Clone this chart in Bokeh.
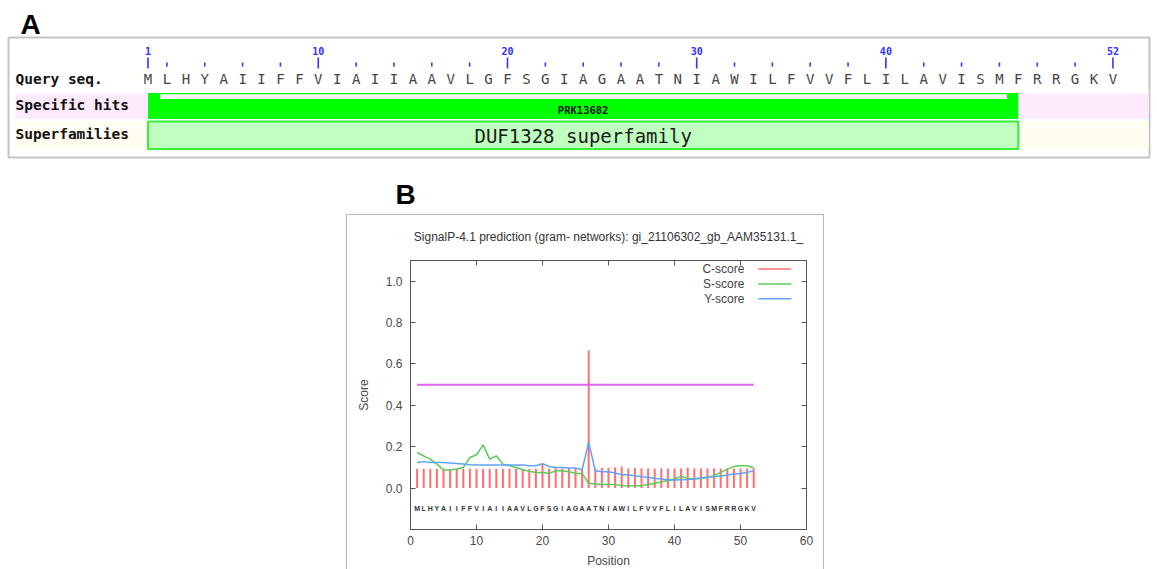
from bokeh.plotting import figure
from bokeh.models import Range1d, FixedTicker, LinearAxis, NumeralTickFormatter, Spacer
from bokeh.layouts import column, row
from bokeh.core.properties import value
from bokeh.embed import file_html
from bokeh.resources import INLINE

# ---------------- data ----------------
SEQUENCE = "MLHYAIIFFVIAIIAAVLGFSGIAGAATNIAWILFVVFLILAVISMFRRGKV"
positions = list(range(1, len(SEQUENCE) + 1))

ruler_major = [1, 10, 20, 30, 40, 52]
ruler_minor = [k for k in range(2, 52, 2) if k not in ruler_major]

hit_name = "PRK13682"
hit_start, hit_end = 1, 47
superfamily_name = "DUF1328 superfamily"

c_score = [0.093, 0.093, 0.093, 0.093, 0.093, 0.093, 0.093, 0.093, 0.093, 0.093,
           0.093, 0.093, 0.093, 0.093, 0.093, 0.093, 0.093, 0.093, 0.093, 0.117,
           0.095, 0.100, 0.095, 0.098, 0.098, 0.095, 0.665, 0.092, 0.098, 0.098,
           0.100, 0.104, 0.095, 0.098, 0.095, 0.095, 0.095, 0.095, 0.095, 0.095,
           0.095, 0.098, 0.095, 0.095, 0.095, 0.095, 0.095, 0.095, 0.095, 0.095,
           0.095, 0.095]
s_score = [0.172, 0.156, 0.140, 0.116, 0.088, 0.088, 0.092, 0.100, 0.148, 0.161,
           0.209, 0.140, 0.156, 0.116, 0.108, 0.100, 0.089, 0.081, 0.076, 0.076,
           0.071, 0.084, 0.084, 0.079, 0.071, 0.071, 0.023, 0.020, 0.017, 0.017,
           0.017, 0.012, 0.010, 0.012, 0.012, 0.017, 0.023, 0.030, 0.037, 0.044,
           0.057, 0.047, 0.044, 0.047, 0.052, 0.060, 0.076, 0.092, 0.104, 0.108,
           0.108, 0.097]
y_score = [0.124, 0.128, 0.124, 0.124, 0.124, 0.121, 0.119, 0.116, 0.113, 0.112,
           0.112, 0.112, 0.112, 0.112, 0.112, 0.112, 0.112, 0.108, 0.108, 0.118,
           0.105, 0.100, 0.100, 0.097, 0.097, 0.089, 0.221, 0.084, 0.079, 0.079,
           0.073, 0.065, 0.065, 0.060, 0.055, 0.052, 0.047, 0.044, 0.041, 0.039,
           0.041, 0.042, 0.044, 0.050, 0.052, 0.055, 0.059, 0.063, 0.068, 0.071,
           0.076, 0.084]
threshold = 0.5

x_ticks = [0, 10, 20, 30, 40, 50, 60]
y_ticks = [0.0, 0.2, 0.4, 0.6, 0.8, 1.0]
legend_names = ["C-score", "S-score", "Y-score"]
plot_title = "SignalP-4.1 prediction (gram- networks): gi_21106302_gb_AAM35131.1_"

# ---------------- styles ----------------
MONO = value("DejaVu Sans Mono")
SANS = value("Liberation Sans")
RED, GREEN, BLUE, VIOLET = "#ff6f6f", "#5acb5a", "#5fa2ff", "#e063f0"

# ---------------- panel A: domain track ----------------
W, HA = 1157, 214
STEP = 18.92          # pixels per residue
ORIGIN = 147.5        # pixel column of residue 1


def rx(px):
    """pixel column -> residue coordinate"""
    return 1 + (px - ORIGIN) / STEP


pa = figure(width=W, height=HA, x_range=Range1d(rx(0), rx(W)), y_range=Range1d(HA, 0),
            x_axis_type=None, y_axis_type=None, toolbar_location=None,
            output_backend="svg", min_border=0, outline_line_color=None)
pa.grid.visible = False

# frame of the track panel
pa.quad(left=rx(8), right=rx(1149), top=37, bottom=157, fill_color="white",
        line_color="#c4c4c4", line_width=2)

# row backgrounds
for y0, y1, col in [(93, 118.5, "#fdeafd"), (121, 149, "#fefdf0")]:
    pa.quad(left=[rx(15), rx(1020)], right=[rx(147), rx(1148)], top=[y0, y0],
            bottom=[y1, y1], fill_color=col, line_color=None)

# ruler
pa.segment(x0=ruler_major, y0=57, x1=ruler_major, y1=68, line_color="#3434ff", line_width=1.6)
pa.segment(x0=ruler_minor, y0=62, x1=ruler_minor, y1=66, line_color="#3434ff", line_width=1.6)
pa.text(x=ruler_major, y=[50] * len(ruler_major), text=[str(v) for v in ruler_major],
        text_font=MONO, text_font_size="10px", text_font_style="bold", text_color="#3030ff",
        text_align="center", text_baseline="middle")

# query sequence
pa.text(x=positions, y=[78] * len(positions), text=list(SEQUENCE), text_font=MONO,
        text_font_size="14px", text_color="#444444", text_align="center", text_baseline="middle")

# specific hit
pa.quad(left=hit_start, right=hit_end, top=92.5, bottom=118.5, fill_color="#00ff00", line_color=None)
pa.quad(left=hit_start + 0.65, right=hit_end - 0.6, top=93.8, bottom=98.6,
        fill_color="#fdf0fd", line_color=None)
pa.text(x=[(hit_start + hit_end) / 2], y=[109], text=[hit_name], text_font=MONO,
        text_font_size="10.5px", text_font_style="bold", text_color="#111111",
        text_align="center", text_baseline="middle")

# superfamily
pa.quad(left=hit_start, right=hit_end, top=121, bottom=148.5, fill_color="#c0ffc0",
        line_color="#3aee3a", line_width=2)
pa.text(x=[(hit_start + hit_end) / 2], y=[135], text=[superfamily_name], text_font=MONO,
        text_font_size="19px", text_color="#1a1a1a", text_align="center", text_baseline="middle")

# row titles
pa.text(x=[rx(15)] * 3, y=[78, 104, 133], text=["Query seq.", "Specific hits", "Superfamilies"],
        text_font=MONO, text_font_size="14.5px", text_font_style="bold", text_color="#111111",
        text_align="left", text_baseline="middle")

# panel letters
pa.text(x=[rx(30), rx(405)], y=[24, 194], text=["A", "B"], text_font=SANS,
        text_font_size="28px", text_font_style="bold", text_color="black",
        text_align="center", text_baseline="middle")

# ---------------- panel B: SignalP scores ----------------
BL, BW, BH = 346, 478, 355
pb = figure(width=BW, height=BH, x_range=Range1d(0, 60), y_range=Range1d(-0.2, 1.1),
            toolbar_location=None, output_backend="svg",
            min_border_left=63, min_border_right=19, min_border_top=45, min_border_bottom=40,
            outline_line_color="#555555", outline_line_width=1,
            styles={"border-top": "1px solid #b8b8b8", "border-left": "1px solid #b8b8b8",
                    "border-right": "1px solid #b8b8b8", "box-sizing": "border-box"})
pb.grid.visible = False

pb.xaxis.ticker = FixedTicker(ticks=x_ticks)
pb.yaxis.ticker = FixedTicker(ticks=y_ticks)
pb.yaxis.formatter = NumeralTickFormatter(format="0.0")
pb.xaxis.axis_label = "Position"
pb.yaxis.axis_label = "Score"
for ax in (pb.xaxis[0], pb.yaxis[0]):
    ax.axis_line_color = "#555555"
    ax.major_tick_line_color = "#555555"
    ax.major_tick_in = 5
    ax.major_tick_out = 0
    ax.minor_tick_line_color = None
    ax.major_label_text_font = "Liberation Sans"
    ax.major_label_text_font_size = "12px"
    ax.major_label_text_color = "#4a4a4a"
    ax.axis_label_text_font = "Liberation Sans"
    ax.axis_label_text_font_size = "12px"
    ax.axis_label_text_font_style = "normal"
    ax.axis_label_text_color = "#4a4a4a"
pb.xaxis.major_label_standoff = 6
pb.xaxis.axis_label_standoff = 6
pb.yaxis.major_label_standoff = 8
pb.yaxis.axis_label_standoff = 12

# mirrored ticks on the top and right edges; the top one carries the plot heading
top_axis = LinearAxis(ticker=FixedTicker(ticks=x_ticks), major_tick_in=5, major_tick_out=0,
                      minor_tick_line_color=None, axis_line_color="#555555",
                      major_tick_line_color="#555555", major_label_standoff=0,
                      major_label_overrides={t: "" for t in x_ticks},
                      axis_label=plot_title, axis_label_standoff=17,
                      axis_label_text_font="Liberation Sans", axis_label_text_font_size="12px",
                      axis_label_text_font_style="normal", axis_label_text_color="#333333")
pb.add_layout(top_axis, "above")
right_axis = LinearAxis(ticker=FixedTicker(ticks=y_ticks), major_tick_in=5, major_tick_out=0,
                        minor_tick_line_color=None, axis_line_color="#555555",
                        major_tick_line_color="#555555", major_label_standoff=0,
                        major_label_overrides={t: "" for t in y_ticks})
pb.add_layout(right_axis, "right")

# C-score impulses, S and Y curves, cut-off line
pb.segment(x0=positions, y0=[0] * len(positions), x1=positions, y1=c_score,
           line_color=RED, line_width=2)
pb.line(positions, s_score, line_color=GREEN, line_width=1.5)
pb.line(positions, y_score, line_color=BLUE, line_width=1.5)
pb.segment(x0=[positions[0]], y0=[threshold], x1=[positions[-1]], y1=[threshold],
           line_color=VIOLET, line_width=2)

# sequence under the scores
pb.text(x=positions, y=[-0.1] * len(positions), text=list(SEQUENCE), text_font=SANS,
        text_font_size="7px", text_font_style="bold", text_color="#333333",
        text_align="center", text_baseline="middle")

# key
key_y = [1.059, 0.987, 0.915]
pb.text(x=[50.6] * 3, y=key_y, text=legend_names, text_font=SANS, text_font_size="12px",
        text_color="#444444", text_align="right", text_baseline="middle")
pb.segment(x0=[52.7] * 3, y0=key_y, x1=[57.7] * 3, y1=key_y,
           line_color=[RED, GREEN, BLUE], line_width=1.5)

layout = column(pa, row(Spacer(width=BL, height=BH), pb))

with open("out.html", "w") as f:
    f.write(file_html(layout, INLINE))
